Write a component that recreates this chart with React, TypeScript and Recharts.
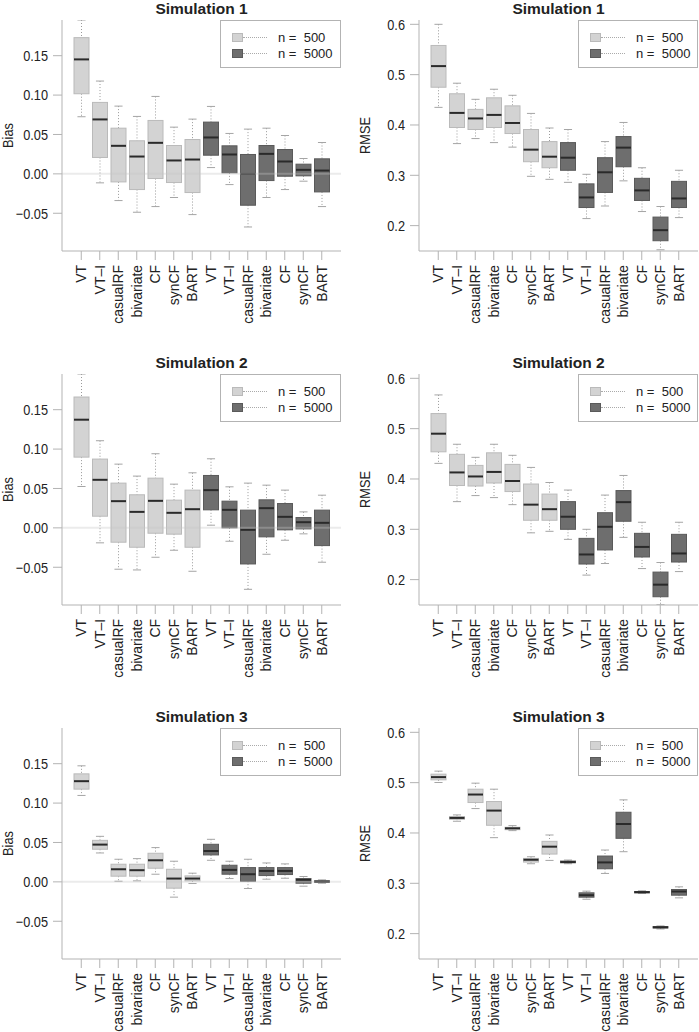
import React from 'react';
import { ComposedChart, Bar, XAxis, YAxis, ReferenceLine, Legend } from 'recharts';

// methods repeat for both sample sizes
const methods = ['VT', 'VT\u2013I', 'casualRF', 'bivariate', 'CF', 'synCF', 'BART'];
const sizes = ['500', '5000'];
const legendLabels = ['n =  500', 'n =  5000'];

// five-number summaries per box: [lower whisker, q1, median, q3, upper whisker]
const sim1Bias = [
  [0.0725, 0.1017, 0.1453, 0.1729, 0.1953],
  [-0.0114, 0.0208, 0.0691, 0.0907, 0.1178],
  [-0.0339, -0.0102, 0.0356, 0.058, 0.086],
  [-0.0487, -0.0199, 0.022, 0.042, 0.0729],
  [-0.0415, -0.0059, 0.0394, 0.0678, 0.0983],
  [-0.03, -0.011, 0.017, 0.036, 0.0593],
  [-0.0517, -0.0237, 0.0182, 0.0436, 0.0695],
  [0.008, 0.0237, 0.0462, 0.0657, 0.0856],
  [-0.0136, 0.0013, 0.0246, 0.0356, 0.0513],
  [-0.0674, -0.0398, 0.0, 0.0246, 0.0568],
  [-0.03, -0.0085, 0.0254, 0.036, 0.058],
  [-0.0199, -0.003, 0.0157, 0.0309, 0.0487],
  [-0.0093, -0.0025, 0.0051, 0.0123, 0.0195],
  [-0.0415, -0.0229, 0.0042, 0.0191, 0.0398],
];

const sim1Rmse = [
  [0.435, 0.475, 0.517, 0.558, 0.6],
  [0.363, 0.395, 0.424, 0.462, 0.483],
  [0.373, 0.391, 0.413, 0.431, 0.451],
  [0.365, 0.395, 0.42, 0.454, 0.471],
  [0.356, 0.383, 0.404, 0.438, 0.459],
  [0.298, 0.327, 0.351, 0.391, 0.423],
  [0.292, 0.315, 0.337, 0.367, 0.394],
  [0.286, 0.31, 0.335, 0.365, 0.391],
  [0.214, 0.236, 0.256, 0.283, 0.302],
  [0.239, 0.266, 0.306, 0.335, 0.367],
  [0.289, 0.317, 0.355, 0.377, 0.405],
  [0.228, 0.25, 0.27, 0.294, 0.315],
  [0.152, 0.17, 0.191, 0.217, 0.238],
  [0.216, 0.236, 0.254, 0.288, 0.31],
];

const sim2Bias = [
  [0.0525, 0.0898, 0.1373, 0.1661, 0.1953],
  [-0.019, 0.0148, 0.061, 0.0873, 0.1106],
  [-0.0525, -0.0182, 0.0339, 0.0568, 0.0809],
  [-0.0534, -0.0246, 0.0203, 0.042, 0.0657],
  [-0.0373, -0.0068, 0.0343, 0.0631, 0.0941],
  [-0.0284, -0.008, 0.0191, 0.0352, 0.0555],
  [-0.0551, -0.0246, 0.0237, 0.0479, 0.0699],
  [0.0034, 0.0229, 0.0479, 0.0665, 0.0877],
  [-0.017, 0.0, 0.0229, 0.0339, 0.0521],
  [-0.078, -0.0458, -0.0025, 0.0225, 0.0568],
  [-0.0335, -0.0114, 0.025, 0.0356, 0.0542],
  [-0.0157, -0.0025, 0.014, 0.0309, 0.0479],
  [-0.0076, -0.0013, 0.0072, 0.0131, 0.0203],
  [-0.0436, -0.0225, 0.0064, 0.0225, 0.0415],
];

const sim2Rmse = [
  [0.431, 0.454, 0.49, 0.53, 0.567],
  [0.355, 0.387, 0.413, 0.449, 0.469],
  [0.367, 0.386, 0.405, 0.427, 0.443],
  [0.363, 0.392, 0.414, 0.452, 0.469],
  [0.349, 0.375, 0.396, 0.429, 0.447],
  [0.293, 0.318, 0.349, 0.39, 0.423],
  [0.296, 0.318, 0.34, 0.37, 0.393],
  [0.28, 0.3, 0.325, 0.355, 0.378],
  [0.209, 0.231, 0.25, 0.282, 0.3],
  [0.232, 0.259, 0.305, 0.333, 0.368],
  [0.284, 0.316, 0.354, 0.377, 0.407],
  [0.222, 0.245, 0.265, 0.292, 0.314],
  [0.15, 0.166, 0.19, 0.215, 0.234],
  [0.216, 0.235, 0.252, 0.29, 0.314],
];

const sim3Bias = [
  [0.1097, 0.1177, 0.1278, 0.1371, 0.1473],
  [0.0367, 0.0414, 0.0473, 0.0527, 0.0578],
  [0.0008, 0.0072, 0.016, 0.0224, 0.0287],
  [0.0013, 0.0072, 0.0148, 0.0224, 0.0295],
  [0.0097, 0.0173, 0.0274, 0.0363, 0.0435],
  [-0.0194, -0.008, 0.0042, 0.016, 0.0262],
  [-0.0021, 0.0013, 0.0042, 0.0076, 0.011],
  [0.0274, 0.0342, 0.0392, 0.0477, 0.054],
  [0.0042, 0.0097, 0.0152, 0.0211, 0.0262],
  [-0.0084, 0.0008, 0.0097, 0.0181, 0.0287],
  [0.0034, 0.008, 0.0139, 0.0181, 0.024],
  [0.0046, 0.0093, 0.0139, 0.0181, 0.0228],
  [-0.0055, -0.0017, 0.0025, 0.0042, 0.0068],
  [-0.0017, -0.0004, 0.0004, 0.0013, 0.0025],
];

const sim3Rmse = [
  [0.5003, 0.5056, 0.511, 0.5169, 0.5229],
  [0.4233, 0.4272, 0.4299, 0.4326, 0.4359],
  [0.4485, 0.4605, 0.4764, 0.487, 0.499],
  [0.3907, 0.4153, 0.4445, 0.4625, 0.487],
  [0.4047, 0.4066, 0.4093, 0.4113, 0.4146],
  [0.3389, 0.3422, 0.3468, 0.3495, 0.3528],
  [0.3455, 0.3581, 0.3728, 0.3834, 0.396],
  [0.3389, 0.3409, 0.3422, 0.3442, 0.3462],
  [0.2684, 0.2724, 0.2764, 0.2811, 0.2844],
  [0.3196, 0.3289, 0.3415, 0.3542, 0.3661],
  [0.3628, 0.3894, 0.4179, 0.4412, 0.4658],
  [0.2797, 0.2811, 0.2824, 0.2837, 0.2851],
  [0.2093, 0.2113, 0.2126, 0.214, 0.2153],
  [0.2711, 0.2764, 0.2837, 0.2877, 0.293],
];

const biasTicks = [-0.05, 0, 0.05, 0.1, 0.15];
const rmseTicks = [0.2, 0.3, 0.4, 0.5, 0.6];
const biasDomain = [-0.0979, 0.1953];
const rmseDomain = [0.1496, 0.6086];

const FONT = '"Liberation Sans", Arial, Helvetica, sans-serif';
const AXIS = '#b3b3b3';
const TEXT = '#222';
const FILL: Record<string, string> = { '500': '#d3d3d3', '5000': '#6e6e6e' };
const EDGE: Record<string, string> = { '500': '#bababa', '5000': '#5a5a5a' };

const PANEL_W = 349;
const PANEL_H = 340;
const ROW_GAP = 354;
const PLOT_TOP = 20;
const PLOT_H = 231;

function buildRows(stats: number[][]) {
  const rows: any[] = [];
  sizes.forEach((n) => {
    methods.forEach((m) => {
      const s = stats[rows.length];
      rows.push({ key: `${m}|${n}`, name: m, n, stats: s, range: [s[0], s[4]] });
    });
  });
  return rows;
}

function BoxShape(props: any) {
  const { x, y, width, height, payload } = props;
  if (!payload || !payload.stats) return null;
  const [lo, q1, med, q3, hi] = payload.stats;
  const top = Math.min(y, y + height);
  const bot = Math.max(y, y + height);
  const span = hi - lo;
  // the bar spans lo..hi on the y scale; map the other quartiles along it
  const py = (v: number) => (span === 0 ? top : bot - ((v - lo) / span) * (bot - top));
  const cx = x + width / 2;
  const cap = width * 0.27;
  const fill = FILL[payload.n];
  const edge = EDGE[payload.n];
  return (
    <g>
      <line x1={cx} x2={cx} y1={py(hi)} y2={py(q3)} stroke="#9a9a9a" strokeDasharray="1 2" />
      <line x1={cx} x2={cx} y1={py(q1)} y2={py(lo)} stroke="#9a9a9a" strokeDasharray="1 2" />
      <line x1={cx - cap} x2={cx + cap} y1={py(hi)} y2={py(hi)} stroke="#a5a5a5" />
      <line x1={cx - cap} x2={cx + cap} y1={py(lo)} y2={py(lo)} stroke="#a5a5a5" />
      <rect x={x} y={py(q3)} width={width} height={Math.max(py(q1) - py(q3), 0.5)} fill={fill} stroke={edge} strokeWidth={1} />
      <line x1={x} x2={x + width} y1={py(med)} y2={py(med)} stroke="#2a2a2a" strokeWidth={2} />
    </g>
  );
}

function XTick(props: any) {
  const { x, y, payload } = props;
  const label = String(payload.value).split('|')[0];
  return (
    <text
      transform={`translate(${x + 5.2},${y}) rotate(-90) scale(0.96,1)`}
      textAnchor="end"
      fontSize={14.5}
      fontFamily={FONT}
      fill={TEXT}
    >
      {label}
    </text>
  );
}

function YTick(props: any) {
  const { x, y, payload, fmt } = props;
  return (
    <text
      transform={`translate(${x},${y}) scale(0.85,1)`}
      dy="0.36em"
      textAnchor="end"
      fontSize={15}
      fontFamily={FONT}
      fill={TEXT}
    >
      {fmt(payload.value)}
    </text>
  );
}

const yTitle = (text: string) => (p: any) => {
  const vb = p.viewBox;
  if (!vb) return null;
  const bx = vb.x + vb.width - 49;
  const cy = vb.y + vb.height / 2;
  return (
    <text
      transform={`translate(${bx},${cy}) rotate(-90) scale(0.85,1)`}
      textAnchor="middle"
      fontSize={15}
      fontFamily={FONT}
      fill={TEXT}
    >
      {text}
    </text>
  );
};

function LegendBox() {
  return (
    <div
      style={{
        width: '100%',
        height: '100%',
        border: `1px solid ${AXIS}`,
        background: '#fff',
        position: 'relative',
        boxSizing: 'border-box',
        fontFamily: FONT,
        fontSize: 13,
        color: TEXT,
      }}
    >
      {sizes.map((n, i) => (
        <div key={n} style={{ position: 'absolute', left: 0, top: 11 + i * 16, height: 12, width: '100%' }}>
          <span
            style={{
              position: 'absolute',
              left: 11,
              top: 1,
              width: 11,
              height: 9,
              background: FILL[n],
              border: `1px solid ${EDGE[n]}`,
              boxSizing: 'border-box',
            }}
          />
          <span style={{ position: 'absolute', left: 22, top: 5, width: 24, borderTop: '1px dotted #aaa' }} />
          <span style={{ position: 'absolute', left: 57, top: -2, lineHeight: '16px', whiteSpace: 'pre' }}>
            {legendLabels[i]}
          </span>
        </div>
      ))}
    </div>
  );
}

interface PanelProps {
  title: string;
  yLabel: string;
  stats: number[][];
  row: number;
  col: number;
}

function Panel({ title, yLabel, stats, row, col }: PanelProps) {
  const data = buildRows(stats);
  const isBias = yLabel === 'Bias';
  const left = col === 0 ? 0 : 349;
  const top = row * ROW_GAP;
  const width = col === 0 ? PANEL_W : 350;
  const bottom = PANEL_H - PLOT_TOP - PLOT_H - 60;
  const margin = col === 0 ? { top: PLOT_TOP, right: 8, bottom, left: 12 } : { top: PLOT_TOP, right: 1, bottom, left: 20 };
  const plotLeft = margin.left + 50;
  const plotW = width - plotLeft - margin.right;
  const fmt = (v: number) => {
    const s = isBias ? Math.abs(v).toFixed(2) : Math.abs(v).toFixed(1);
    return v < 0 ? `\u2212${s}` : s;
  };
  return (
    <div style={{ position: 'absolute', left, top, width, height: PANEL_H }}>
      <div
        style={{
          position: 'absolute',
          left: plotLeft,
          width: plotW,
          top: PLOT_TOP - 20,
          textAlign: 'center',
          fontFamily: FONT,
          fontWeight: 'bold',
          fontSize: 15.5,
          lineHeight: '18px',
          color: TEXT,
        }}
      >
        {title}
      </div>
      <ComposedChart width={width} height={PANEL_H} data={data} margin={margin} style={{ overflow: 'visible' }}>
        <XAxis
          dataKey="key"
          type="category"
          interval={0}
          padding={{ left: 10, right: 10 }}
          height={60}
          tickSize={9}
          tickMargin={5}
          tick={<XTick />}
          axisLine={{ stroke: AXIS }}
          tickLine={{ stroke: AXIS }}
        />
        {col === 0 && (
          <XAxis xAxisId="top" orientation="top" dataKey="key" height={0} tick={false} tickLine={false} axisLine={{ stroke: AXIS }} />
        )}
        <YAxis
          domain={isBias ? biasDomain : rmseDomain}
          ticks={isBias ? biasTicks : rmseTicks}
          allowDataOverflow
          type="number"
          width={50}
          tickSize={9}
          tickMargin={5}
          tick={<YTick fmt={fmt} />}
          axisLine={{ stroke: AXIS }}
          tickLine={{ stroke: AXIS }}
          label={{ content: yTitle(yLabel) }}
        />
        <YAxis yAxisId="right" orientation="right" width={0} tick={false} tickLine={false} axisLine={{ stroke: AXIS }} />
        <Bar dataKey="range" barSize={15} shape={<BoxShape />} isAnimationActive={false} />
        {isBias && <ReferenceLine y={0} stroke="#c6c6c6" strokeOpacity={0.35} strokeWidth={2} />}
        <Legend
          layout="horizontal"
          verticalAlign="middle"
          align="center"
          content={() => <LegendBox />}
          wrapperStyle={{
            position: 'absolute',
            left: col === 0 ? 220 : 229,
            top: PLOT_TOP,
            width: col === 0 ? 121 : 120,
            height: 48,
          }}
        />
      </ComposedChart>
    </div>
  );
}

const panels = [
  { title: 'Simulation 1', yLabel: 'Bias', stats: sim1Bias },
  { title: 'Simulation 1', yLabel: 'RMSE', stats: sim1Rmse },
  { title: 'Simulation 2', yLabel: 'Bias', stats: sim2Bias },
  { title: 'Simulation 2', yLabel: 'RMSE', stats: sim2Rmse },
  { title: 'Simulation 3', yLabel: 'Bias', stats: sim3Bias },
  { title: 'Simulation 3', yLabel: 'RMSE', stats: sim3Rmse },
];

export default function App() {
  return (
    <div style={{ position: 'absolute', left: 0, top: 0, width: 699, height: 1032, background: '#fff', overflow: 'hidden' }}>
      {panels.map((p, i) => (
        <Panel key={i} title={p.title} yLabel={p.yLabel} stats={p.stats} row={Math.floor(i / 2)} col={i % 2} />
      ))}
    </div>
  );
}
